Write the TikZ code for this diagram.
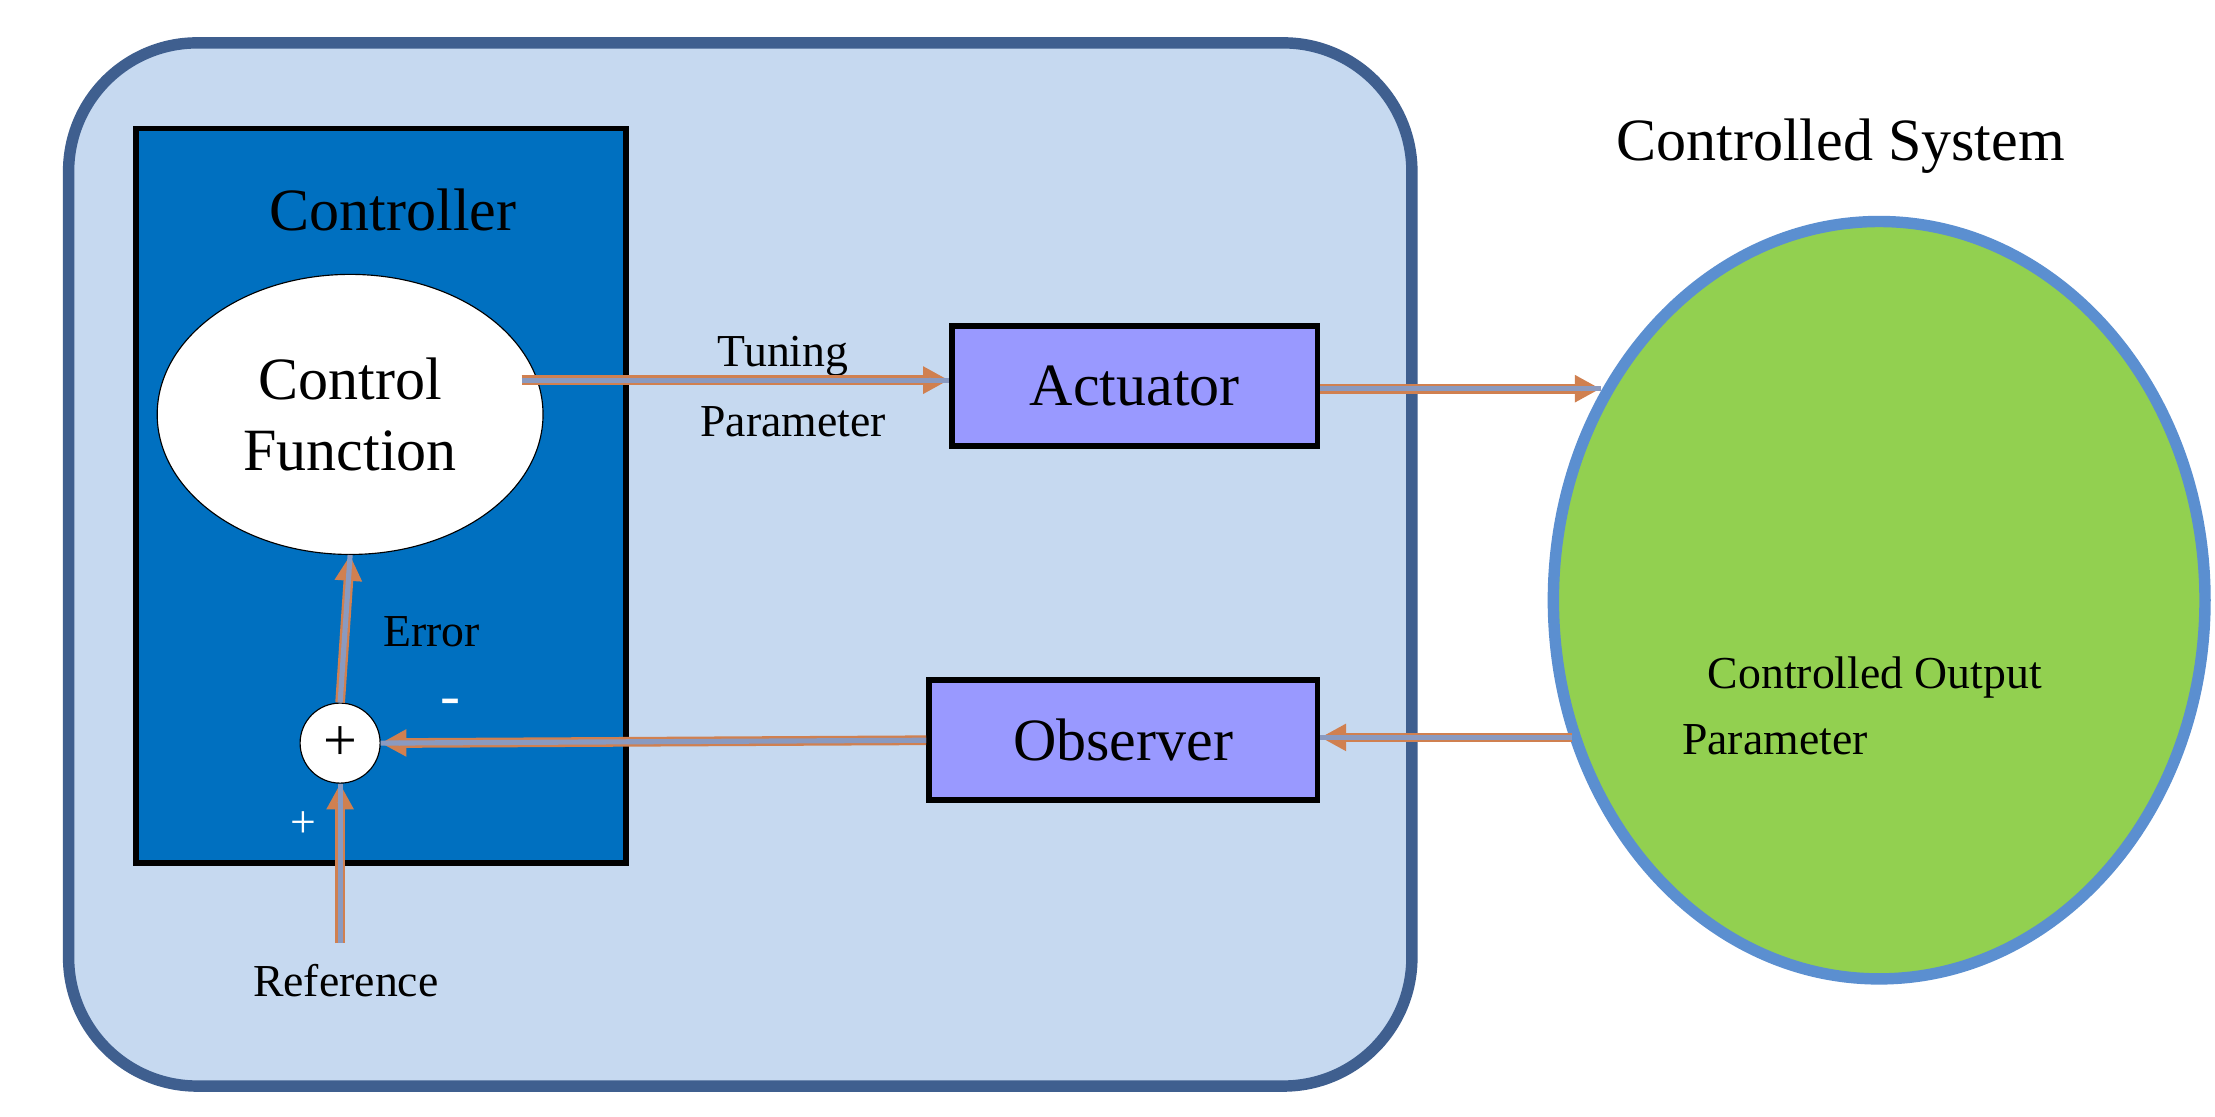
\documentclass[tikz,border=0pt]{standalone}
\usepackage{fontspec}
\setmainfont{Liberation Serif}
\usetikzlibrary{arrows.meta,shapes.geometric}
\definecolor{bgblue}{HTML}{C6D9F0}
\definecolor{frame}{HTML}{3F5F8F}
\definecolor{ctrl}{HTML}{0070C0}
\definecolor{boxc}{HTML}{9999FF}
\definecolor{green}{HTML}{92D050}
\definecolor{ering}{HTML}{5B8FD0}
\definecolor{arrg}{HTML}{8A9AC0}
\definecolor{arro}{HTML}{D08050}
\begin{document}
\begin{tikzpicture}[x=0.5pt,y=-0.5pt,
  big/.style={font=\fontsize{21}{25}\selectfont},
  mid/.style={font=\fontsize{16}{19}\selectfont},
  box/.style={draw=black,line width=2pt,fill=boxc,minimum width=128pt,minimum height=42pt,big},
  flow/.style={draw=arro,line width=3.4pt,-{Triangle[length=9pt,width=9pt,fill=arrg]},
     postaction={draw=arrg,line width=1.8pt,-{}}}]
\useasboundingbox (0,0) rectangle (1550,781);
\fill[white] (0,0) rectangle (1550,781);
\draw[frame,line width=4pt,fill=bgblue,rounded corners=45pt] (48,30) rectangle (988,760);
\draw[black,line width=2pt,fill=ctrl] (95,90) rectangle (438,604);
\node[big] (ctl) at (275,147) {Controller};
\node[ellipse,draw=black,fill=white,minimum width=135pt,minimum height=98pt,align=center,big,inner sep=0pt] (cf) at (245,290) {Control\\Function};
\node[circle,draw=black,fill=white,minimum size=28pt,inner sep=0pt,big] (sum) at (238,520) {+};
\node[mid] (err) at (302,442) {Error};
\node[big,white] (minus) at (315,495) {-};
\node[mid,white] (plus) at (212,577) {+};
\node[mid] (ref) at (242,686) {Reference};
\coordinate (refin) at (238,660);
\node[box] (act) at (794,270) {Actuator};
\node[box,minimum width=136pt] (obs) at (786,518) {Observer};
\node[mid] (tun) at (548,249) {Tuning};
\node[mid] (par) at (555,295) {Parameter};
\node[ellipse,draw=ering,line width=4pt,fill=green,minimum width=228pt,minimum height=265pt] (sys) at (1315,420) {};
\node[big] (cs) at (1288,102) {Controlled System};
\node[mid] (cop) at (1312,474) {Controlled Output};
\node[mid] (cpp) at (1242,518) {Parameter};
\coordinate (tstart) at (365,266);
\coordinate (sysin) at (1120,272);
\coordinate (sysout) at (1100,516);
\draw[flow] (refin) -- (sum.south);
\draw[flow] (sum.north) -- (cf.south);
\draw[flow] (tstart) -- (act.west |- tstart);
\draw[flow] (act.east |- sysin) -- (sysin);
\draw[flow] (sysout) -- (obs.east |- sysout);
\draw[flow] (obs.west) -- (sum.east);
\end{tikzpicture}
\end{document}
